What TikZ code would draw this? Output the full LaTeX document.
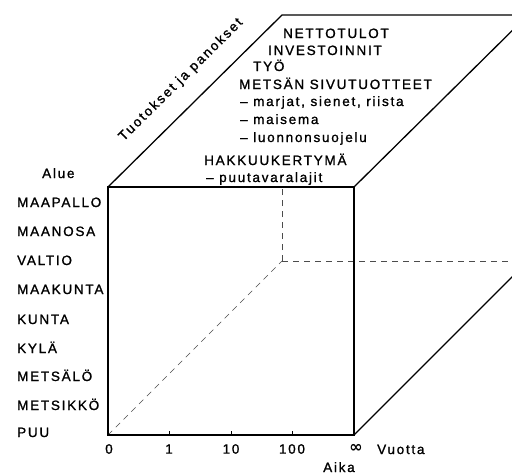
\documentclass[tikz,border=0pt]{standalone}
\usepackage{fontspec}
\setmainfont{Liberation Sans}
\newfontfamily\labfont[LetterSpace=13,FakeBold=1.2]{Liberation Sans}
\newfontfamily\widefont[LetterSpace=15,FakeBold=1.2]{Liberation Sans}
\newfontfamily\symfont{DejaVu Sans}
\begin{document}
\begin{tikzpicture}[x=1pt,y=-1pt,
  edge/.style={line width=1.3pt,line join=miter},
  hidden/.style={line width=0.7pt,dash pattern=on 6pt off 5pt,black!70},
  lab/.style={inner sep=0pt,font=\labfont\fontsize{13.5}{15}\selectfont},
  lbl/.style={lab,anchor=base west},
  tick/.style={line width=0.8pt}]
\useasboundingbox (0,0) rectangle (512,474);
\begin{scope}
\clip (0,0) rectangle (512,474);
% cube corners
\coordinate (ftl) at (108,187);
\coordinate (ftr) at (354,187);
\coordinate (fbl) at (108,435);
\coordinate (fbr) at (354,435);
\coordinate (btl) at (282,15);
\coordinate (btr) at (528,15);
\coordinate (bbl) at (282,261);
\coordinate (bbr) at (528,261);
\coordinate (bvt) at (282,189);
% hidden edges
\draw[hidden] (fbl) -- (bbl);
\draw[hidden] (bbl) -- (bvt);
\draw[hidden] (bbl) -- (bbr);
% visible edges
\draw[edge] (ftl) -- (ftr) -- (fbr) -- (fbl) -- cycle;
\draw[edge] (ftl) -- (btl) -- (btr);
\draw[edge] (ftr) -- (btr);
\draw[edge] (fbr) -- (bbr);
\end{scope}
% ticks
\coordinate (t1) at (169,435);
\coordinate (t2) at (231,435);
\coordinate (t3) at (292,435);
\draw[tick] (t1) -- ++(0,-4);
\draw[tick] (t2) -- ++(0,-4);
\draw[tick] (t3) -- ++(0,-4);
% axis labels
\node[lab] (n0) at (109,449) {0};
\node[lab] (n1) at (169,449) {1};
\node[lab] (n10) at (231,449) {10};
\node[lab] (n100) at (292,449) {100};
\node[inner sep=0pt,font=\symfont\bfseries\fontsize{16}{16}\selectfont] (ninf) at (356,448) {∞};
\node[lbl] (vuotta) at (377,454) {Vuotta};
\node[lab,anchor=base] (aika) at (339,472) {Aika};
% region labels
\node[lbl] (alue) at (42,178) {Alue};
\node[lbl] (l1) at (17,207) {MAAPALLO};
\node[lbl] (l2) at (17,236) {MAANOSA};
\node[lbl] (l3) at (17,265) {VALTIO};
\node[lbl] (l4) at (17,294) {MAAKUNTA};
\node[lbl] (l5) at (17,324) {KUNTA};
\node[lbl] (l6) at (17,353) {KYLÄ};
\node[lbl] (l7) at (17,381) {METSÄLÖ};
\node[lbl] (l8) at (17,410) {METSIKKÖ};
\node[lbl] (l9) at (17,437) {PUU};
% diagonal label
\node[inner sep=0pt,font=\widefont\fontsize{13.5}{15}\selectfont,rotate=44.7] (tp) at (181,80) {Tuotokset ja panokset};
% top face text
\node[lbl] (t1a) at (283,38) {NETTOTULOT};
\node[lbl] (t2a) at (268,55) {INVESTOINNIT};
\node[lbl] (t3a) at (253,71) {TYÖ};
\node[lbl] (t4a) at (239,89) {METSÄN SIVUTUOTTEET};
\node[lbl] (t5a) at (240,106) {– marjat, sienet, riista};
\node[lbl] (t6a) at (240,124) {– maisema};
\node[lbl] (t7a) at (240,142) {– luonnonsuojelu};
\node[lbl] (t8a) at (204,165) {HAKKUUKERTYMÄ};
\node[lbl] (t9a) at (206,182) {– puutavaralajit};
\end{tikzpicture}
\end{document}
